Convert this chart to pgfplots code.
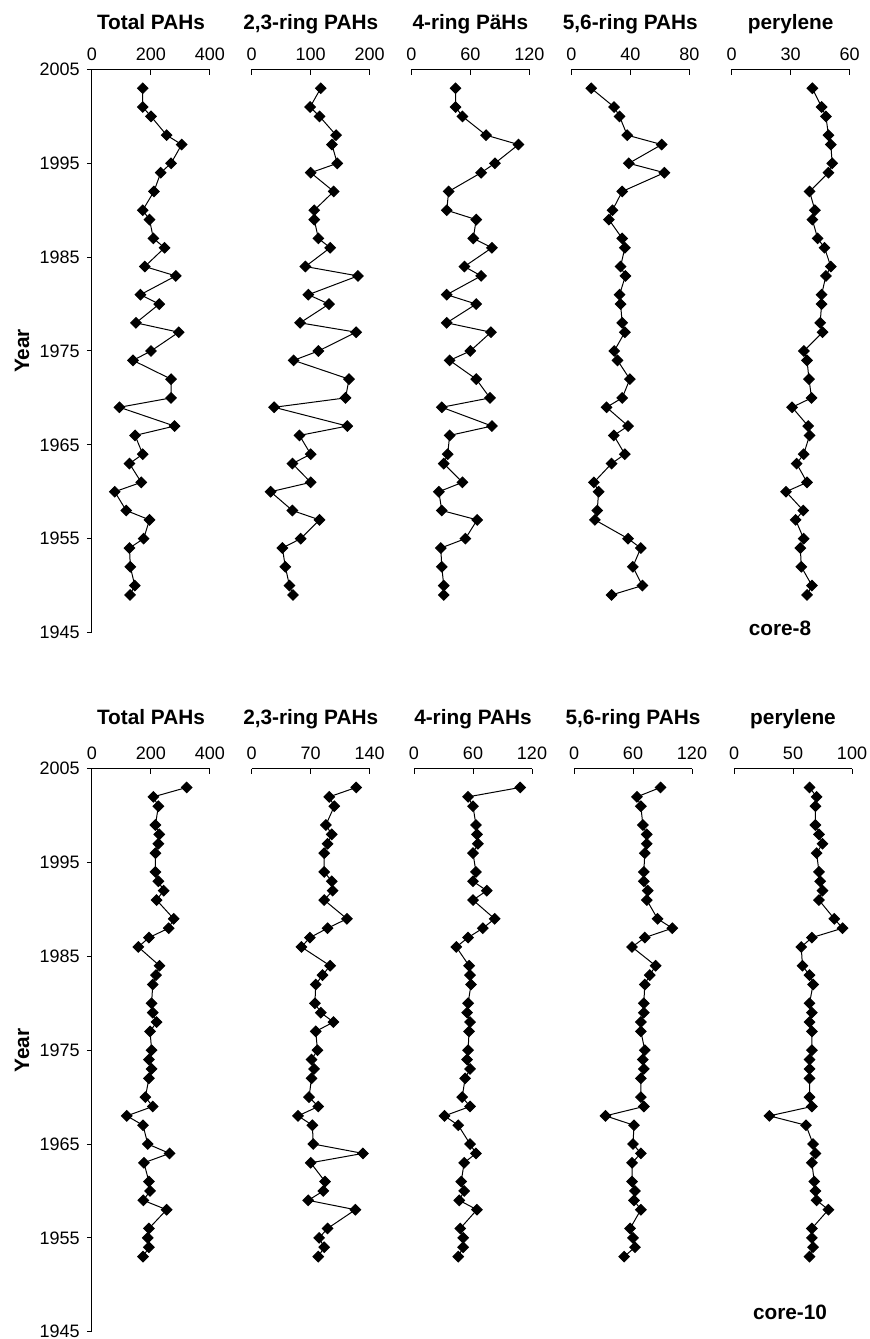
\documentclass[border=0pt]{standalone}
\usepackage{fontspec}
\setmainfont{Liberation Sans}
\usepackage{pgfplots}
\usepackage{pgfplotstable}
\pgfplotsset{compat=1.18}

% core-8 profile
\pgfplotstableread{
year total r23 r4 r56 per
2003 172 117 45 13.5 41
2001 172 99 45 29 45.7
2000 200 115 52 32.7 47.9
1998 253 143 76 37.9 49.2
1997 304 136 109 61.3 50.4
1995 268 145 85 39 51.1
1994 233 100 71 63.1 49.2
1992 210 139 38 34.5 39.6
1990 172 106 36 27.9 42.3
1989 195 106 66 25.5 41
1987 208 113 63 34.5 43.7
1986 246 133 82 36.3 47.2
1984 179 91 54 33.4 50.4
1983 284 180 71 36.7 47.9
1981 164 96 36 32.7 45.7
1980 228 131 66 33.4 45.7
1978 149 82 36 34.5 45
1977 294 177 81 36.3 46.2
1975 200 113 60 29.1 36.7
1974 139 71 39 31.3 38.3
1972 268 165 66 39.7 39.3
1970 268 159 80 34.5 40.6
1969 93 38 31 23.9 30.7
1967 280 162 82 38.5 38.9
1966 146 81 39 28.8 39.6
1964 172 100 37 36.3 36.6
1963 127 69 33 27.3 33
1961 167 100 52 15.3 38.3
1960 77 32 28 18.5 27.6
1958 116 69 31 17.6 36.4
1957 195 115 67 16 32.5
1955 175 83 55 38.5 36.6
1954 127 52 30 47.1 34.9
1952 130 57 31 41.7 35.4
1950 145 64 33 48.2 40.8
1949 129 70 33 27.3 38.3
}\coreeight

% core-10 profile
\pgfplotstableread{
year total r23 r4 r56 per
2003 321 124 108 88 64
2002 208 92 55 64 70
2001 225 98 60 68 69
1999 215 88 63 70 69
1998 228 95 64 74 72
1997 225 90 65 74 75
1996 215 86 60 72 70
1994 215 86 63 71 72
1993 225 95 60 71 73
1992 243 96 74 75 75
1991 219 86 60 74 72
1989 277 113 82 85 85
1988 260 90 70 100 92
1987 193 69 55 72 66
1986 157 59 43 59 57
1984 229 93 56 83 58
1983 217 84 57 77 64
1982 206 76 58 72 67
1980 202 75 55 71 64
1979 206 82 54 71 66
1978 219 97 57 68 64
1977 197 76 56 68 66
1975 202 78 55 72 66
1974 193 71 54 70 64
1973 202 74 57 71 64
1972 193 71 52 68 64
1970 181 68 49 68 64
1969 206 79 57 71 66
1968 118 55 31 32 30
1967 173 72 45 61 61
1965 189 73 57 60 67
1964 263 132 63 68 69
1963 176 70 51 59 66
1961 193 87 48 59 68
1960 197 85 51 62 69
1959 174 67 46 61 70
1958 253 123 64 68 80
1956 193 90 47 57 66
1955 189 80 50 60 66
1954 193 86 50 62 67
1953 173 79 45 51 64
}\coreten

\pgfplotsset{
  panel/.style={
    width=59pt, height=281.5pt, scale only axis,
    anchor=north west,
    ymin=1945, ymax=2005, xmin=0,
    axis x line*=top,
    axis line style={black, line width=0.5pt},
    xtick align=inside,
    major tick length=2.6pt,
    every tick/.style={black, line width=0.5pt},
    tick label style={font=\fontsize{9}{10}\selectfont},
    xticklabel style={anchor=base, yshift=4.6pt},
    /pgf/number format/assume math mode=true,
    /pgf/number format/1000 sep={},
    title style={font=\fontsize{10.4}{12}\selectfont\bfseries, at={(0.5,1)}, anchor=base},
    clip=false,
  },
  toprow/.style={title style={yshift=14.2pt}},
  botrow/.style={title style={yshift=15.9pt}},
  firstpanel/.style={panel, axis y line*=left, ytick align=outside,
    ytick={1945,1955,...,2005}},
  otherpanel/.style={panel, hide y axis},
  prof/.style={black, line width=0.5pt, mark=square*, mark size=1.85pt,
    mark options={rotate=45, solid, fill=black}},
}

\begin{document}
\begin{tikzpicture}
\useasboundingbox (0,0) rectangle (434.5pt,669.5pt);

% ---- core-8 ----
\begin{axis}[firstpanel, toprow, at={(46pt,634.75pt)}, xmax=400, xtick={0,200,400}, title={Total PAHs}]
\addplot[prof] table[x=total, y=year] {\coreeight};
\end{axis}
\begin{axis}[otherpanel, toprow, at={(125.85pt,634.75pt)}, xmax=200, xtick={0,100,200}, title={2,3-ring PAHs}]
\addplot[prof] table[x=r23, y=year] {\coreeight};
\end{axis}
\begin{axis}[otherpanel, toprow, at={(205.65pt,634.75pt)}, xmax=120, xtick={0,60,120}, title={4-ring PäHs}]
\addplot[prof] table[x=r4, y=year] {\coreeight};
\end{axis}
\begin{axis}[otherpanel, toprow, at={(285.65pt,634.75pt)}, xmax=80, xtick={0,40,80}, title={5,6-ring PAHs}]
\addplot[prof] table[x=r56, y=year] {\coreeight};
\end{axis}
\begin{axis}[otherpanel, toprow, at={(365.85pt,634.75pt)}, xmax=60, xtick={0,30,60}, title={perylene}]
\addplot[prof] table[x=per, y=year] {\coreeight};
\end{axis}

% ---- core-10 ----
\begin{axis}[firstpanel, botrow, at={(46pt,285.15pt)}, xmax=400, xtick={0,200,400}, title={Total PAHs}]
\addplot[prof] table[x=total, y=year] {\coreten};
\end{axis}
\begin{axis}[otherpanel, botrow, at={(125.85pt,285.15pt)}, xmax=140, xtick={0,70,140}, title={2,3-ring PAHs}]
\addplot[prof] table[x=r23, y=year] {\coreten};
\end{axis}
\begin{axis}[otherpanel, botrow, at={(207pt,285.15pt)}, xmax=120, xtick={0,60,120}, title={4-ring PAHs}]
\addplot[prof] table[x=r4, y=year] {\coreten};
\end{axis}
\begin{axis}[otherpanel, botrow, at={(287pt,285.15pt)}, xmax=120, xtick={0,60,120}, title={5,6-ring PAHs}]
\addplot[prof] table[x=r56, y=year] {\coreten};
\end{axis}
\begin{axis}[otherpanel, botrow, at={(367pt,285.15pt)}, xmax=100, xtick={0,50,100}, title={perylene}]
\addplot[prof] table[x=per, y=year] {\coreten};
\end{axis}

\node[rotate=90, font=\fontsize{10.4}{12}\selectfont\bfseries] at (11pt,494pt) {Year};
\node[rotate=90, font=\fontsize{10.4}{12}\selectfont\bfseries] at (11pt,144.2pt) {Year};
\node[font=\fontsize{10.4}{12}\selectfont\bfseries] at (390pt,355.5pt) {core-8};
\node[font=\fontsize{10.4}{12}\selectfont\bfseries] at (395pt,13.5pt) {core-10};
\end{tikzpicture}
\end{document}
